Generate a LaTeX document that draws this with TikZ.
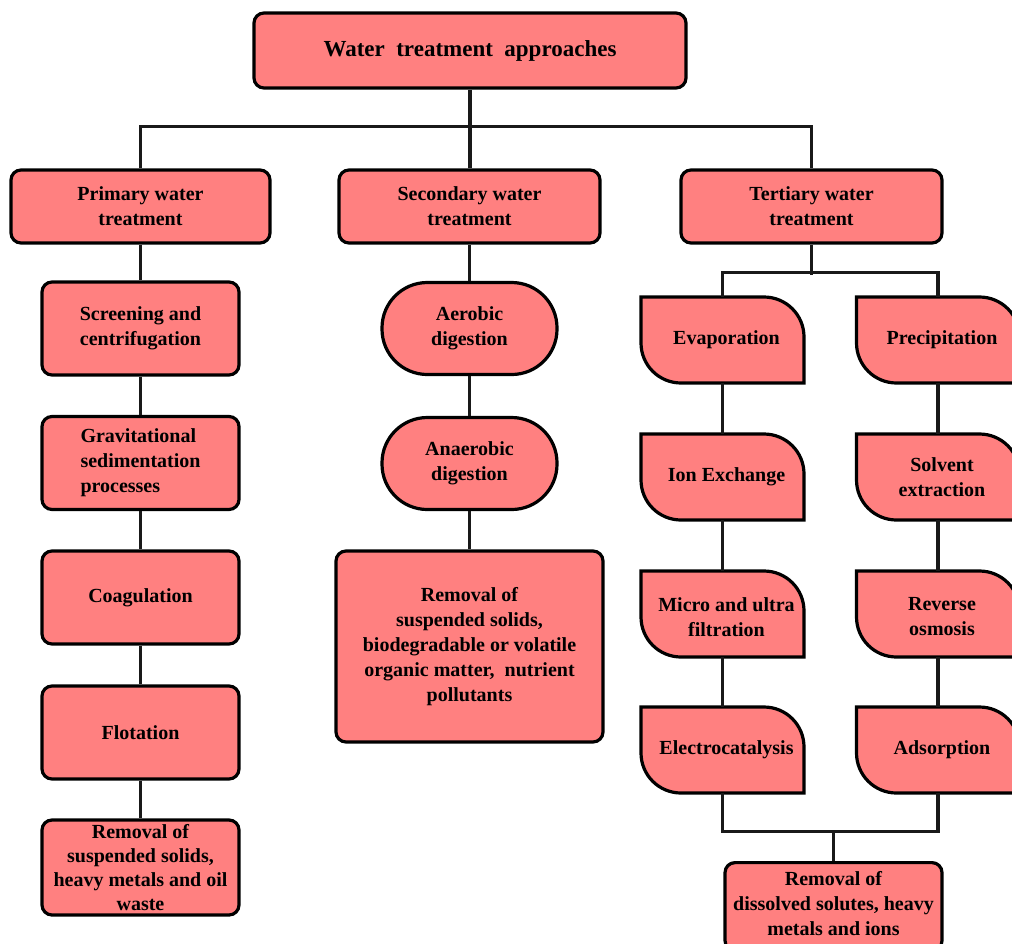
\documentclass[tikz,border=0pt]{standalone}
\usepackage{fontspec}
\setmainfont{Liberation Serif}
\definecolor{boxfill}{RGB}{255,128,128}
\newcommand\pxu{0.75pt}
\tikzset{
  x=0.75pt, y=-0.75pt,
  boxline/.style={draw=black, line width=2.4pt, fill=boxfill},
  conn/.style={draw=black!90, line width=2.3pt},
  txt/.style={font=\fontsize{15pt}{18.75pt}\selectfont\bfseries, align=center, text=black},
  rbox/.style={boxline, txt, rounded corners=7.5pt, inner sep=0pt},
  stad/.style={boxline, txt, rounded corners=34pt, inner sep=0pt},
  tnode/.style={inner sep=0pt, minimum width={163*\pxu}, minimum height={86*\pxu}},
  tlab/.style={txt, inner sep=0pt, xshift=3pt},
}
\newcommand\tshape[2]{%
  \begin{scope}[shift={(#1,#2)}]
    \filldraw[boxline] (-81.5,-43) -- (41.5,-43)
      .. controls (63.6,-43) and (81.5,-25.1) .. (81.5,-3) -- (81.5,43) -- (-41.5,43)
      .. controls (-63.6,43) and (-81.5,25.1) .. (-81.5,3) -- cycle;
  \end{scope}}
\begin{document}
\begin{tikzpicture}
\useasboundingbox (0,0) rectangle (1012,943);
\clip (0,0) rectangle (1012,943);
\fill[white] (0,0) rectangle (1012,943);

% top level
\node[rbox, minimum width={432*\pxu}, minimum height={75*\pxu}, font=\fontsize{17.25pt}{20pt}\selectfont\bfseries] (title) at (470,50.5) {Water\ \ treatment\ \ approaches};
\node[rbox, minimum width={259*\pxu}, minimum height={73*\pxu}] (prim) at (140.5,206.5) {Primary water\\treatment};
\node[rbox, minimum width={261*\pxu}, minimum height={73*\pxu}] (sec) at (469.5,206.5) {Secondary water\\treatment};
\node[rbox, minimum width={261*\pxu}, minimum height={73*\pxu}] (tert) at (811.5,206.5) {Tertiary water\\treatment};

% primary column
\tikzset{pcol/.style={rbox, minimum width={197*\pxu}, minimum height={93*\pxu}}}
\node[pcol] (scr) at (140.5,328.5) {Screening and\\centrifugation};
\node[pcol, align=left] (grav) at (140.5,463) {Gravitational\\sedimentation\\processes};
\node[pcol] (coag) at (140.5,597.5) {Coagulation};
\node[pcol] (flot) at (140.5,732.5) {Flotation};
\node[pcol, minimum height={95*\pxu}, font=\fontsize{15pt}{18pt}\selectfont\bfseries] (prem) at (140.5,867.5) {Removal of\\suspended solids,\\heavy metals and oil\\waste};

% secondary column
\node[stad, minimum width={175*\pxu}, minimum height={92*\pxu}] (aer) at (469.5,328.5) {Aerobic\\digestion};
\node[stad, minimum width={175*\pxu}, minimum height={92*\pxu}] (ana) at (469.5,463.5) {Anaerobic\\digestion};
\node[rbox, minimum width={267*\pxu}, minimum height={191*\pxu}] (srem) at (469.5,646.5) {Removal of\\suspended solids,\\biodegradable or volatile\\organic matter,\ \ nutrient\\pollutants};

% tertiary columns
\tshape{722.5}{340}
\node[tnode, label={[tlab]center:Evaporation}] (evap) at (722.5,340) {};
\tshape{722.5}{477}
\node[tnode, label={[tlab]center:Ion Exchange}] (ion) at (722.5,477) {};
\tshape{722.5}{614}
\node[tnode, label={[tlab, yshift=-2.25pt]center:Micro and ultra\\filtration}] (micro) at (722.5,614) {};
\tshape{722.5}{750}
\node[tnode, label={[tlab]center:Electrocatalysis}] (elec) at (722.5,750) {};

\tshape{938}{340}
\node[tnode, label={[tlab]center:Precipitation}] (prec) at (938,340) {};
\tshape{938}{477}
\node[tnode, label={[tlab]center:Solvent\\extraction}] (solv) at (938,477) {};
\tshape{938}{614}
\node[tnode, label={[tlab, yshift=-2.25pt]center:Reverse\\osmosis}] (rev) at (938,614) {};
\tshape{938}{750}
\node[tnode, label={[tlab]center:Adsorption}] (ads) at (938,750) {};

\node[boxline, rounded corners=7.5pt, inner sep=0pt, minimum width={217*\pxu}, minimum height={88*\pxu}, anchor=north,
  label={[txt, inner sep=0pt, yshift=2.25pt]center:Removal of\\dissolved solutes, heavy\\metals and ions}] (fin) at (833.5,861) {};

% connectors
\draw[conn] (title.south) -- (title.south |- sec.north);
\draw[conn] (prim.north) -- ++(0,-42) -| (tert.north);
\draw[conn] (sec.north) -- ++(0,-42);

\draw[conn] (prim) -- (scr);
\draw[conn] (scr) -- (grav);
\draw[conn] (grav) -- (coag);
\draw[conn] (coag) -- (flot);
\draw[conn] (flot) -- (prem);

\draw[conn] (sec) -- (aer);
\draw[conn] (aer) -- (ana);
\draw[conn] (ana) -- (srem);

\draw[conn] (tert.south) -- ++(0,30);
\draw[conn] (evap.north) -- ++(0,-24) -| (prec.north);
\draw[conn] (evap) -- (ion);
\draw[conn] (ion) -- (micro);
\draw[conn] (micro) -- (elec);
\draw[conn] (prec) -- (solv);
\draw[conn] (solv) -- (rev);
\draw[conn] (rev) -- (ads);
\draw[conn] (elec.south) -- ++(0,38) -| (ads.south);
\draw[conn] (fin.north) -- ++(0,-30);
\end{tikzpicture}
\end{document}
